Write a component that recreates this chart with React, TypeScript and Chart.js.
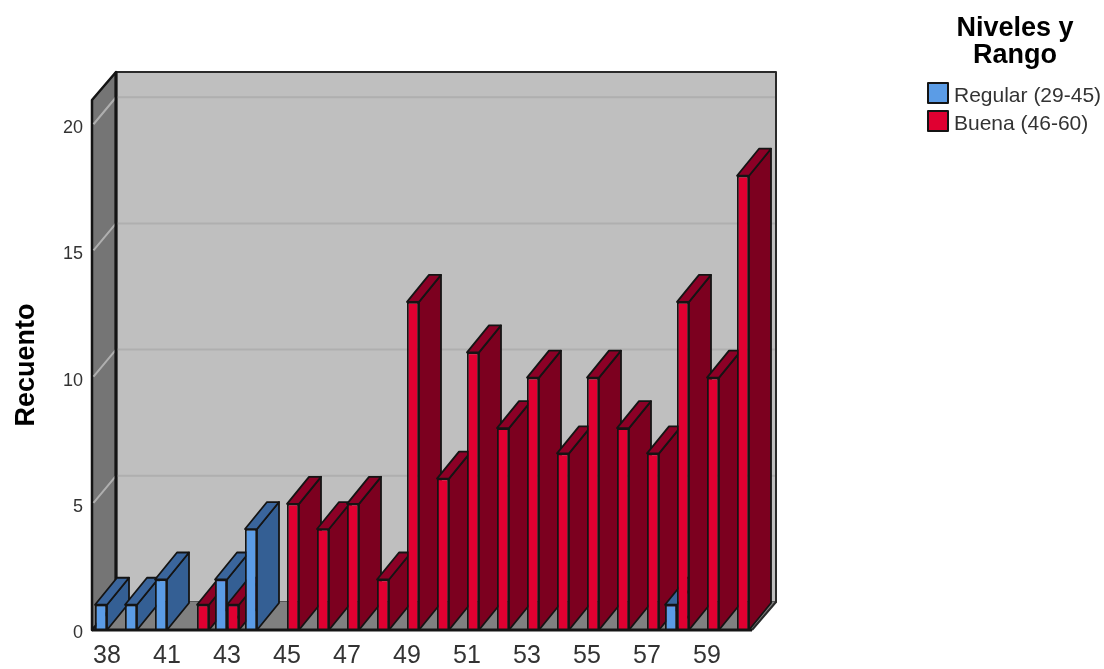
import React, { useEffect, useRef } from "react";
import { Chart, registerables } from "chart.js";

Chart.register(...registerables);

const categories = ["38", "40", "41", "42", "43", "44", "45", "46", "47", "48", "49", "50", "51", "52", "53", "54", "55", "56", "57", "58", "59", "60"];
const regular = [1, 1, 2, null, 2, 4, null, null, null, null, null, null, null, null, null, null, null, null, null, 1, null, null];
const buena = [null, null, null, 1, 1, null, 5, 4, 5, 2, 13, 6, 11, 8, 10, 7, 10, 8, 7, 13, 10, 18];
const seriesNames = ["Regular (29-45)", "Buena (46-60)"];
const legendTitle = ["Niveles y", "Rango"];
const axisTitle = "Recuento";

const OUTLINE = "#141414";
const shades: Record<string, { front: string; top: string; side: string }> = {
  "#5b9ce6": { front: "#5b9ce6", top: "#3a659c", side: "#345f94" },
  "#e00031": { front: "#e00031", top: "#8c0026", side: "#7c001f" },
};
const FRONT = ["#5b9ce6", "#e00031"];

const WALL = { dx: 24, dy: 28 };
const BAR = { dx: 22, dy: 27 };

function poly(ctx: CanvasRenderingContext2D, pts: number[][], fill: string, stroke = OUTLINE, lw = 1.8) {
  ctx.beginPath();
  pts.forEach(([x, y], i) => (i ? ctx.lineTo(x, y) : ctx.moveTo(x, y)));
  ctx.closePath();
  ctx.fillStyle = fill;
  ctx.fill();
  ctx.lineWidth = lw;
  ctx.strokeStyle = stroke;
  ctx.lineJoin = "round";
  ctx.stroke();
}

const box3d = {
  id: "box3d",
  beforeDraw(chart: any) {
    // the reference's value labels sit slightly below their gridlines
    for (const item of chart.scales.y.getLabelItems()) {
      if (!item.__moved) {
        item.options.translation = [item.options.translation[0], item.options.translation[1] + 3];
        item.__moved = true;
      }
    }
  },
  beforeDatasetsDraw(chart: any) {
    const { ctx, chartArea: a, scales } = chart;
    const { left: l, right: r, top: t, bottom: b } = a;
    const { dx, dy } = WALL;
    ctx.save();
    poly(ctx, [[l + dx, t - dy], [r + dx, t - dy], [r + dx, b - dy], [l + dx, b - dy]], "#bfbfbf", "#2a2a2a", 2);
    poly(ctx, [[l, b], [r, b], [r + dx, b - dy], [l + dx, b - dy]], "#808080", "#808080", 1);
    poly(ctx, [[l, t], [l + dx, t - dy], [l + dx, b - dy], [l, b]], "#757575", OUTLINE, 2.5);
    ctx.lineWidth = 2;
    for (const tick of scales.y.ticks) {
      if (tick.value === 0) continue;
      const y = scales.y.getPixelForValue(tick.value);
      ctx.strokeStyle = "#afafaf";
      ctx.beginPath();
      ctx.moveTo(l + 1.5, y - 1);
      ctx.lineTo(l + dx, y - dy);
      ctx.lineTo(r + dx, y - dy);
      ctx.stroke();
    }
    ctx.strokeStyle = OUTLINE;
    ctx.lineWidth = 3;
    ctx.beginPath();
    ctx.moveTo(l + dx, t - dy);
    ctx.lineTo(l + dx, b - dy);
    ctx.stroke();
    ctx.lineWidth = 2;
    ctx.strokeStyle = "#2a2a2a";
    ctx.beginPath();
    ctx.moveTo(r, b);
    ctx.lineTo(r + dx, b - dy);
    ctx.lineTo(r + dx, t - dy);
    ctx.stroke();
    ctx.restore();
  },
  beforeDatasetDraw() {
    return false;
  },
  afterDatasetsDraw(chart: any) {
    const { ctx, chartArea: a } = chart;
    const items: { el: any; di: number }[] = [];
    chart.data.datasets.forEach((ds: any, di: number) => {
      chart.getDatasetMeta(di).data.forEach((el: any, i: number) => {
        if (ds.data[i] != null) items.push({ el, di });
      });
    });
    items.sort((p, q) => p.el.x - q.el.x);
    const { dx, dy } = BAR;
    ctx.save();
    for (const { el, di } of items) {
      const s = shades[FRONT[di]];
      const half = el.width / 2;
      const x0 = el.x - half;
      const x1 = el.x + half;
      const yt = el.y;
      const yb = el.base;
      poly(ctx, [[x1, yt], [x1 + dx, yt - dy], [x1 + dx, yb - dy], [x1, yb]], s.side);
      poly(ctx, [[x0, yt], [x0 + dx, yt - dy], [x1 + dx, yt - dy], [x1, yt]], s.top);
      el.draw(ctx);
    }
    // front floor edge
    ctx.strokeStyle = OUTLINE;
    ctx.lineWidth = 3;
    ctx.beginPath();
    ctx.moveTo(a.left, a.bottom);
    ctx.lineTo(a.right, a.bottom);
    ctx.stroke();

    // legend
    ctx.textBaseline = "middle";
    ctx.textAlign = "center";
    ctx.fillStyle = "#000";
    ctx.font = "bold 27px 'Liberation Sans'";
    legendTitle.forEach((line, i) => ctx.fillText(line, 1015, 29 + i * 27));
    ctx.textAlign = "left";
    ctx.font = "21px 'Liberation Sans'";
    seriesNames.forEach((name, i) => {
      const y = 83 + i * 28;
      ctx.fillStyle = FRONT[i];
      ctx.strokeStyle = OUTLINE;
      ctx.lineWidth = 2;
      ctx.fillRect(928, y, 20, 20);
      ctx.strokeRect(928, y, 20, 20);
      ctx.fillStyle = "#333";
      ctx.fillText(name, 954, y + 13);
    });
    ctx.restore();
  },
};

export default function App() {
  const ref = useRef<HTMLCanvasElement>(null);
  useEffect(() => {
    const chart = new Chart(ref.current!, {
      type: "bar",
      data: {
        labels: categories,
        datasets: [
          { label: seriesNames[0], data: regular, backgroundColor: FRONT[0], borderColor: OUTLINE, borderWidth: 1.8 },
          { label: seriesNames[1], data: buena, backgroundColor: FRONT[1], borderColor: OUTLINE, borderWidth: 1.8 },
        ],
      },
      options: {
        responsive: false,
        animation: false,
        layout: { padding: { left: 0, top: 100, right: 352, bottom: 0 } },
        plugins: { legend: { display: false }, title: { display: false }, tooltip: { enabled: false } },
        datasets: { bar: { categoryPercentage: 0.8, barPercentage: 1 } },
        scales: {
          x: {
            grid: { display: false },
            border: { display: false },
            afterFit: (s: any) => { s.height = 39; },
            ticks: {
              autoSkip: false,
              maxRotation: 0,
              minRotation: 0,
              padding: 3,
              color: "#333",
              font: { family: "'Liberation Sans'", size: 25 },
              callback(this: any, _v: any, i: number) {
                return i % 2 === 0 ? categories[i] : "";
              },
            },
          },
          y: {
            min: 0,
            max: 21,
            grid: { display: false },
            border: { display: false },
            afterFit: (s: any) => { s.width = 92; },
            afterBuildTicks: (s: any) => { s.ticks = [0, 5, 10, 15, 20].map((value) => ({ value })); },
            ticks: {
              padding: 1,
              color: "#333",
              font: { family: "'Liberation Sans'", size: 18 },
            },
            title: {
              display: true,
              text: axisTitle,
              color: "#000",
              padding: { top: 10, bottom: 0 },
              font: { family: "'Liberation Sans'", size: 27, weight: "bold" },
            },
          },
        },
      },
      plugins: [box3d],
    } as any);
    return () => chart.destroy();
  }, []);
  return <canvas ref={ref} width={1104} height={669} style={{ position: "fixed", left: 0, top: 0, display: "block" }} />;
}
